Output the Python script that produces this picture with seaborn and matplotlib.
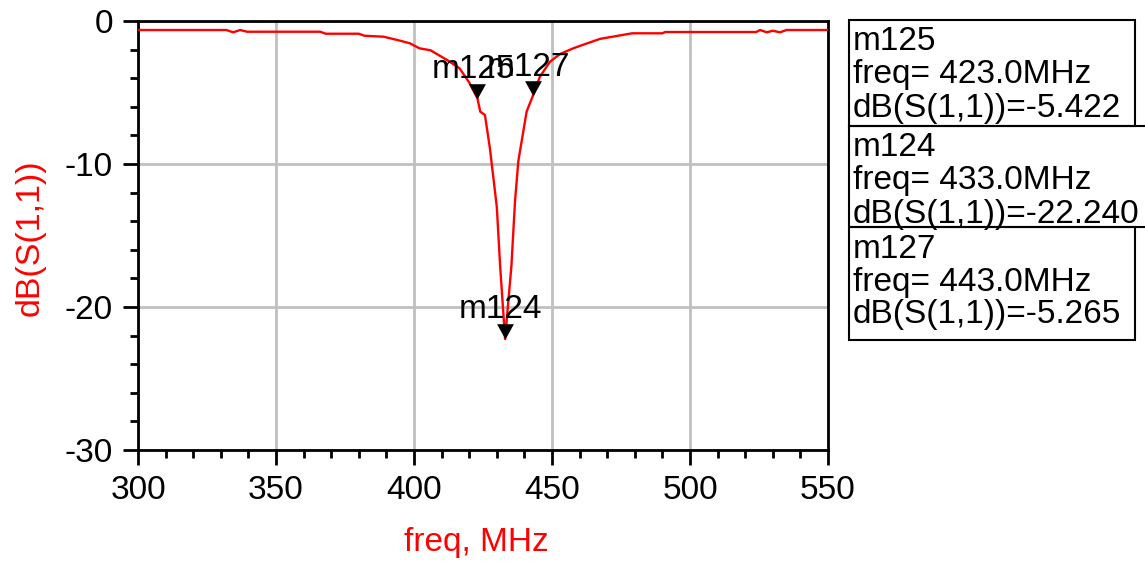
import matplotlib
matplotlib.use("Agg")
import numpy as np
import pandas as pd
import matplotlib.pyplot as plt
import seaborn as sns
from matplotlib.path import Path
from matplotlib.patches import Rectangle
from matplotlib.ticker import MultipleLocator

# Measured return loss S11 (dB) versus frequency (MHz)
freq_mhz = [300, 332, 334.5, 337, 339.5, 366, 368, 380, 382, 389, 394, 398.5,
            402, 406, 412, 416.5, 420, 423, 424, 425.7, 427.5, 430, 431.2, 433,
            435.3, 436.6, 437.8, 440.8, 443, 445.6, 449.3, 453, 457.7, 461,
            467.4, 473.4, 479, 490, 491, 524, 525.4, 527.8, 530, 532.6, 535, 550]
s11_db = [-0.63, -0.63, -0.79, -0.63, -0.75, -0.75, -0.89, -0.89, -1.03, -1.10,
          -1.33, -1.56, -1.91, -2.05, -2.73, -3.31, -4.30, -5.422, -6.34, -6.57,
          -8.9, -13.0, -17.1, -22.240, -17.1, -12.6, -9.8, -6.34, -5.265, -3.9,
          -2.84, -2.30, -1.91, -1.68, -1.25, -1.05, -0.86, -0.86, -0.77, -0.77,
          -0.63, -0.79, -0.68, -0.79, -0.63, -0.63]

# Markers placed on the trace
marker_names = ["m125", "m124", "m127"]
marker_freqs = [423.0, 433.0, 443.0]
marker_dbs = [-5.422, -22.240, -5.265]

x_ticks = [300, 350, 400, 450, 500, 550]
y_ticks = [-30, -20, -10, 0]

W, H = 1145, 562
FS = 24

sns.set_style("white")
plt.rcParams["font.family"] = ["Liberation Sans", "DejaVu Sans"]
plt.rcParams["axes.unicode_minus"] = False

fig = plt.figure(figsize=(W / 100, H / 100), dpi=100)
ax = fig.add_axes([138 / W, 1 - 450 / H, 690 / W, 429 / H])

df = pd.DataFrame({"freq": freq_mhz, "dB": s11_db})
sns.lineplot(data=df, x="freq", y="dB", color="red", linewidth=1.7,
             ax=ax, legend=False, zorder=3)

ax.set_xlim(300, 550)
ax.set_ylim(-30, 0)
ax.set_xticks(x_ticks)
ax.set_yticks(y_ticks)
ax.xaxis.set_minor_locator(MultipleLocator(10))
ax.yaxis.set_minor_locator(MultipleLocator(2))
ax.grid(which="major", color="#c0c0c0", linewidth=2)
ax.set_axisbelow(True)
for sp in ax.spines.values():
    sp.set_visible(True)
    sp.set_color("black")
    sp.set_linewidth(2)
ax.tick_params(which="major", direction="out", length=11, width=2,
               labelsize=FS, colors="black", pad=7)
ax.tick_params(which="minor", direction="out", length=6, width=2, colors="black")
ax.tick_params(axis="x", which="both", bottom=True)
ax.tick_params(axis="y", which="both", left=True)
ax.set_xlabel("")
ax.set_ylabel("")

# Downward triangle with its tip on the data point
tri = Path([(0, 0), (-0.55, 1.0), (0.55, 1.0), (0, 0)],
           [Path.MOVETO, Path.LINETO, Path.LINETO, Path.CLOSEPOLY])
sns.scatterplot(x=marker_freqs, y=marker_dbs, marker=tri, s=22 ** 2,
                color="black", linewidth=0, ax=ax, zorder=5, clip_on=False,
                legend=False)
for name, f, d in zip(marker_names, marker_freqs, marker_dbs):
    ax.annotate(name, (f, d), xytext=(-3, 21), textcoords="offset points",
                ha="center", va="center", fontsize=FS, color="black", zorder=6)

# Axis titles
fig.text(476 / W, 1 - 542 / H, "freq, MHz", color="red", fontsize=FS,
         ha="center", va="center")
fig.text(30 / W, 1 - 238 / H, "dB(S(1,1))", color="red", fontsize=FS + 0.5,
         ha="center", va="center", rotation=90)

# Marker readout boxes
boxes = [(20, 126, 1135), (126, 227, 1160), (227, 340, 1135)]
for (top, bot, right), name, f, d in zip(boxes, marker_names, marker_freqs, marker_dbs):
    left = 849
    fig.patches.append(Rectangle((left / W, 1 - bot / H), (right - left) / W,
                                 (bot - top) / H, transform=fig.transFigure,
                                 fill=False, edgecolor="black", linewidth=1.5))
    lines = [name, f"freq= {f:.1f}MHz", f"dB(S(1,1))={d:.3f}"]
    for i, txt in enumerate(lines):
        yc = top + 22 + i * 33
        fig.text(853 / W, 1 - yc / H, txt, fontsize=FS, color="black",
                 ha="left", va="center")

fig.savefig("out.png", dpi=100)
